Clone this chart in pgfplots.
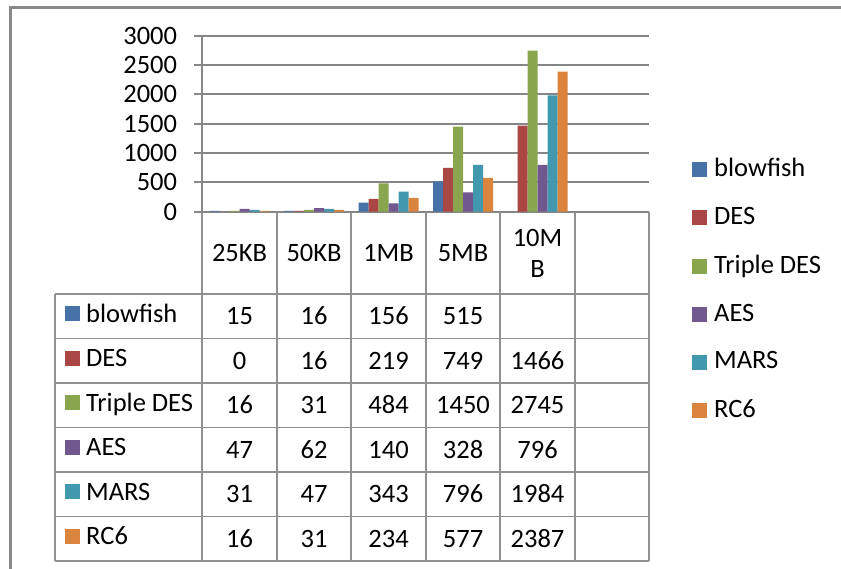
\documentclass[border=0pt]{standalone}
\usepackage{pgfplots}
\pgfplotsset{compat=1.18}
\usepackage{fontspec}
\setmainfont{Carlito}
\definecolor{cBlow}{RGB}{70,114,168}
\definecolor{cDES}{RGB}{170,70,67}
\definecolor{cTDES}{RGB}{137,165,78}
\definecolor{cAES}{RGB}{113,88,143}
\definecolor{cMARS}{RGB}{65,152,175}
\definecolor{cRC}{RGB}{219,132,61}
\definecolor{gridgray}{RGB}{134,134,134}
\definecolor{tabgray}{RGB}{145,145,145}
\definecolor{framegray}{RGB}{137,137,137}
\pgfplotsset{sqleg/.style={legend image code/.code={\fill[##1,draw=none] (0pt,-7.5pt) rectangle (15pt,7.5pt);}}}
\begin{document}
\fontsize{26.5}{31}\selectfont
\begin{tikzpicture}[x=1pt,y=1pt]
\useasboundingbox (0,0) rectangle (841,569);
% chart frame
\draw[framegray, line width=2.6pt] (10.7,0) -- (10.7,561.7) -- (841,561.7);
\begin{axis}[
  at={(202.3pt,357.3pt)}, anchor=south west,
  scale only axis, width=447pt, height=176pt,
  xmin=0, xmax=6, ymin=0, ymax=3000,
  enlargelimits=false, clip=false,
  ybar=0pt, bar width=10pt,
  xtick=\empty,
  ytick={0,500,...,3000},
  scaled y ticks=false,
  yticklabel style={/pgf/number format/assume math mode=true,
     /pgf/number format/1000 sep={}, inner sep=0pt, xshift=-17pt},
  axis x line=bottom, axis y line=left,
  axis line style={-, draw=gridgray, line width=1.8pt},
  ymajorgrids, grid style={draw=gridgray, line width=1.8pt},
  tick align=outside, major tick length=8pt,
  tick style={draw=gridgray, line width=1.8pt},
  legend style={at={(1.0955,-0.4435)}, anchor=west, draw=none, fill=none,
     inner sep=0pt, row sep=26.6pt, legend cell align=left,
     nodes={inner sep=0pt}},
  legend image code/.code={\fill[#1,draw=none] (0pt,-7.5pt) rectangle (15pt,7.5pt);},
  every axis legend/.append style={/tikz/every odd column/.append style={column sep=7pt}},
]
\addplot[fill=cBlow, draw=none, sqleg] coordinates {(0.5,15) (1.5,16) (2.5,156) (3.5,515)};
\addplot[fill=cDES, draw=none, sqleg] coordinates {(0.5,0) (1.5,16) (2.5,219) (3.5,749) (4.5,1466)};
\addplot[fill=cTDES, draw=none, sqleg] coordinates {(0.5,16) (1.5,31) (2.5,484) (3.5,1450) (4.5,2745)};
\addplot[fill=cAES, draw=none, sqleg] coordinates {(0.5,47) (1.5,62) (2.5,140) (3.5,328) (4.5,796)};
\addplot[fill=cMARS, draw=none, sqleg] coordinates {(0.5,31) (1.5,47) (2.5,343) (3.5,796) (4.5,1984)};
\addplot[fill=cRC, draw=none, sqleg] coordinates {(0.5,16) (1.5,31) (2.5,234) (3.5,577) (4.5,2387)};
\legend{blowfish, DES, Triple DES, AES, MARS, RC6}
\end{axis}
% data table grid
\begin{scope}[tabgray, line width=1.8pt]
\foreach \yy in {274.7,230.5,186,141.5,97,52.5,8} \draw (55,\yy) -- (649.3,\yy);
\draw (55,274.7) -- (55,8);
\foreach \xx in {202.3,276.8,351.3,425.8,500.3,574.8,649.3} \draw (\xx,357.3) -- (\xx,8);
\end{scope}
% header labels
\node at (239.55,316) {25KB};
\node at (314.05,316) {50KB};
\node at (388.55,316) {1MB};
\node at (463.05,316) {5MB};
\node[align=center] at (537.55,316) {10M\\B};
% row labels and values
\foreach \yc/\col/\lab in {252.6/cBlow/blowfish, 208.25/cDES/DES, 163.75/cTDES/Triple DES, 119.25/cAES/AES, 74.75/cMARS/MARS, 30.25/cRC/RC6}{
  \fill[\col] (65,\yc-5) rectangle (80,\yc+10);
  \node[anchor=base west, inner sep=0pt] at (86,\yc-6) {\lab};
}
\foreach \yc/\a/\b/\c/\d/\e in {252.6/15/16/156/515/{},
  208.25/0/16/219/749/1466, 163.75/16/31/484/1450/2745,
  119.25/47/62/140/328/796, 74.75/31/47/343/796/1984, 30.25/16/31/234/577/2387}{
  \node[anchor=base, inner sep=0pt] at (239.55,\yc-8.5) {\a};
  \node[anchor=base, inner sep=0pt] at (314.05,\yc-8.5) {\b};
  \node[anchor=base, inner sep=0pt] at (388.55,\yc-8.5) {\c};
  \node[anchor=base, inner sep=0pt] at (463.05,\yc-8.5) {\d};
  \node[anchor=base, inner sep=0pt] at (537.55,\yc-8.5) {\e};
}
\end{tikzpicture}
\end{document}
